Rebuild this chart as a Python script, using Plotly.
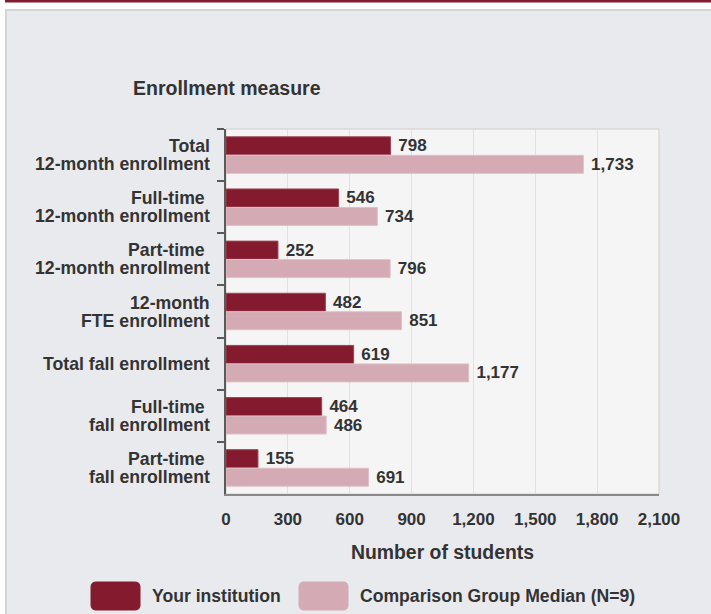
import plotly.graph_objects as go

# ---------------- data ----------------
category_lines = [
    ["Total", "12-month enrollment"],
    ["Full-time\u00a0", "12-month enrollment"],
    ["Part-time\u00a0", "12-month enrollment"],
    ["12-month", "FTE enrollment"],
    ["Total fall enrollment"],
    ["Full-time\u00a0", "fall enrollment"],
    ["Part-time\u00a0", "fall enrollment"],
]
categories = [" ".join(l).replace("\u00a0", "").replace("  ", " ") for l in category_lines]
institution = [798, 546, 252, 482, 619, 464, 155]
comparison = [1733, 734, 796, 851, 1177, 486, 691]
series_names = ["Your institution", "Comparison Group Median (N=9)"]
x_ticks = [0, 300, 600, 900, 1200, 1500, 1800, 2100]

# ---------------- style ----------------
W, H = 711, 614
ML, MR, MT, MB = 226, 52, 129, 120
PW, PH = W - ML - MR, H - MT - MB
DARK, PINK = "#841a2e", "#d4aab4"
TXT = "#333333"
FONT = "Liberation Sans, Arial, sans-serif"


def px(x):
    return (x - ML) / PW


def py(y):
    return (H - MB - y) / PH


def rrect(x0, y0, x1, y1, r):
    rx, ry = r / PW, r / PH
    X0, X1 = px(x0), px(x1)
    Y0, Y1 = py(y0), py(y1)  # Y0 top, Y1 bottom (Y0 > Y1)
    return (f"M {X0+rx},{Y0} L {X1-rx},{Y0} Q {X1},{Y0} {X1},{Y0-ry} "
            f"L {X1},{Y1+ry} Q {X1},{Y1} {X1-rx},{Y1} L {X0+rx},{Y1} "
            f"Q {X0},{Y1} {X0},{Y1+ry} L {X0},{Y0-ry} Q {X0},{Y0} {X0+rx},{Y0} Z")


fig = go.Figure()
for vals, name, col, lc in [(institution, series_names[0], DARK, "#9c4556"),
                            (comparison, series_names[1], PINK, "#dfc0c7")]:
    fig.add_trace(go.Bar(
        y=categories, x=vals, name=name, orientation="h",
        marker=dict(color=col, line=dict(color=lc, width=1)),
        texttemplate="\u00a0%{x:,}", textposition="outside",
        textfont=dict(size=17, color=TXT, family=FONT, weight="bold"),
        constraintext="none", cliponaxis=False, showlegend=False,
    ))

shapes = [
    # page background
    dict(type="rect", xref="paper", yref="paper", x0=px(6), x1=px(W + 5), y0=py(10), y1=py(H + 5),
         fillcolor="#e9eaee", line=dict(color="#d5d5d8", width=2), layer="below"),
    # top red band
    dict(type="rect", xref="paper", yref="paper", x0=px(5), x1=px(W + 5), y0=py(-1), y1=py(2.5),
         fillcolor=DARK, line=dict(width=0), layer="below"),
    # plot area
    dict(type="rect", xref="paper", yref="paper", x0=0, x1=1, y0=0, y1=1,
         fillcolor="#f5f5f5", line=dict(color="#cfcfcf", width=1), layer="below"),
    # legend swatches
    dict(type="path", xref="paper", yref="paper", path=rrect(91, 582, 140, 610, 5),
         fillcolor=DARK, line=dict(color=DARK, width=1)),
    dict(type="path", xref="paper", yref="paper", path=rrect(299, 582, 348, 610, 5),
         fillcolor=PINK, line=dict(color=PINK, width=1)),
]

annotations = []
for cat, lines in zip(categories, category_lines):
    shifts = [0] if len(lines) == 1 else [9, -9]
    for ln, sh in zip(lines, shifts):
        annotations.append(dict(
            xref="paper", yref="y", x=px(212), y=cat, yshift=sh,
            xanchor="right", yanchor="middle", text=ln, showarrow=False,
            font=dict(size=17.7, color=TXT, family=FONT, weight="bold")))

annotations.append(dict(xref="paper", yref="paper", x=px(131), y=py(88),
                        xanchor="left", yanchor="middle", text="Enrollment measure",
                        showarrow=False,
                        font=dict(size=19.5, color=TXT, family=FONT, weight="bold")))
for xx, name in [(150, series_names[0]), (358, series_names[1])]:
    annotations.append(dict(xref="paper", yref="paper", x=px(xx), y=py(596),
                            xanchor="left", yanchor="middle", text=name, showarrow=False,
                            font=dict(size=17.6, color=TXT, family=FONT, weight="bold")))

fig.update_layout(
    width=W, height=H,
    margin=dict(l=ML, r=MR, t=MT, b=MB, autoexpand=False),
    paper_bgcolor="white", plot_bgcolor="#f5f5f5",
    barmode="group", bargap=0.29, bargroupgap=0.03,
    font=dict(family=FONT, color=TXT),
    shapes=shapes, annotations=annotations,
    xaxis=dict(range=[0, 2100], tickvals=x_ticks, tickformat=",",
               showgrid=True, gridcolor="#d9e3ee", gridwidth=1, zeroline=False,
               showline=True, linecolor="#8a8a8a", linewidth=2,
               ticks="", ticklabelstandoff=9,
               tickfont=dict(size=17, color=TXT, family=FONT, weight="bold"),
               title=dict(text="Number of students", standoff=17,
                          font=dict(size=19.4, color=TXT, family=FONT, weight="bold")),
               automargin=False),
    yaxis=dict(type="category", categoryorder="array", categoryarray=categories,
               autorange="reversed", showticklabels=False, showgrid=False,
               ticks="outside", tickson="boundaries", ticklen=7, tickwidth=2, tickcolor="#5a5a5a",
               showline=True, linecolor="#5a5a5a", linewidth=2, zeroline=False,
               automargin=False),
)

fig.write_html("out.html",
               config={"displayModeBar": False},
               post_script="document.body.style.margin='0';document.body.style.overflow='hidden';")
